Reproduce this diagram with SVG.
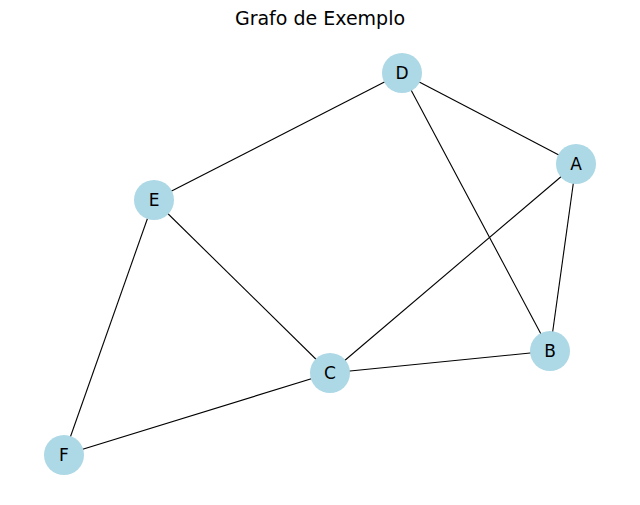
<svg xmlns="http://www.w3.org/2000/svg" width="640" height="505" viewBox="0 0 640 505">
<style>
.edge{stroke:#000;stroke-width:1.1;fill:none}
.node circle{fill:#add8e6;stroke:none}
.node text{font-family:"DejaVu Sans",sans-serif;font-size:17px;fill:#000;text-anchor:middle;dominant-baseline:central}
.title{font-family:"DejaVu Sans",sans-serif;font-size:19px;fill:#000;text-anchor:middle}
</style>
<rect width="640" height="505" fill="#fff"/>
<text class="title" x="320" y="25">Grafo de Exemplo</text>
<g id="edges">
<line class="edge" x1="402" y1="73" x2="154" y2="200"/>
<line class="edge" x1="402" y1="73" x2="576" y2="164"/>
<line class="edge" x1="402" y1="73" x2="550" y2="351"/>
<line class="edge" x1="576" y1="164" x2="330" y2="373"/>
<line class="edge" x1="576" y1="164" x2="550" y2="351"/>
<line class="edge" x1="154" y1="200" x2="330" y2="373"/>
<line class="edge" x1="154" y1="200" x2="64" y2="455"/>
<line class="edge" x1="330" y1="373" x2="550" y2="351"/>
<line class="edge" x1="330" y1="373" x2="64" y2="455"/>
</g>
<g id="node-D" class="node"><circle cx="402" cy="73" r="20"/><text x="402" y="73">D</text></g>
<g id="node-A" class="node"><circle cx="576" cy="164" r="20"/><text x="576" y="164">A</text></g>
<g id="node-E" class="node"><circle cx="154" cy="200" r="20"/><text x="154" y="200">E</text></g>
<g id="node-B" class="node"><circle cx="550" cy="351" r="20"/><text x="550" y="351">B</text></g>
<g id="node-C" class="node"><circle cx="330" cy="373" r="20"/><text x="330" y="373">C</text></g>
<g id="node-F" class="node"><circle cx="64" cy="455" r="20"/><text x="64" y="455">F</text></g>
</svg>
